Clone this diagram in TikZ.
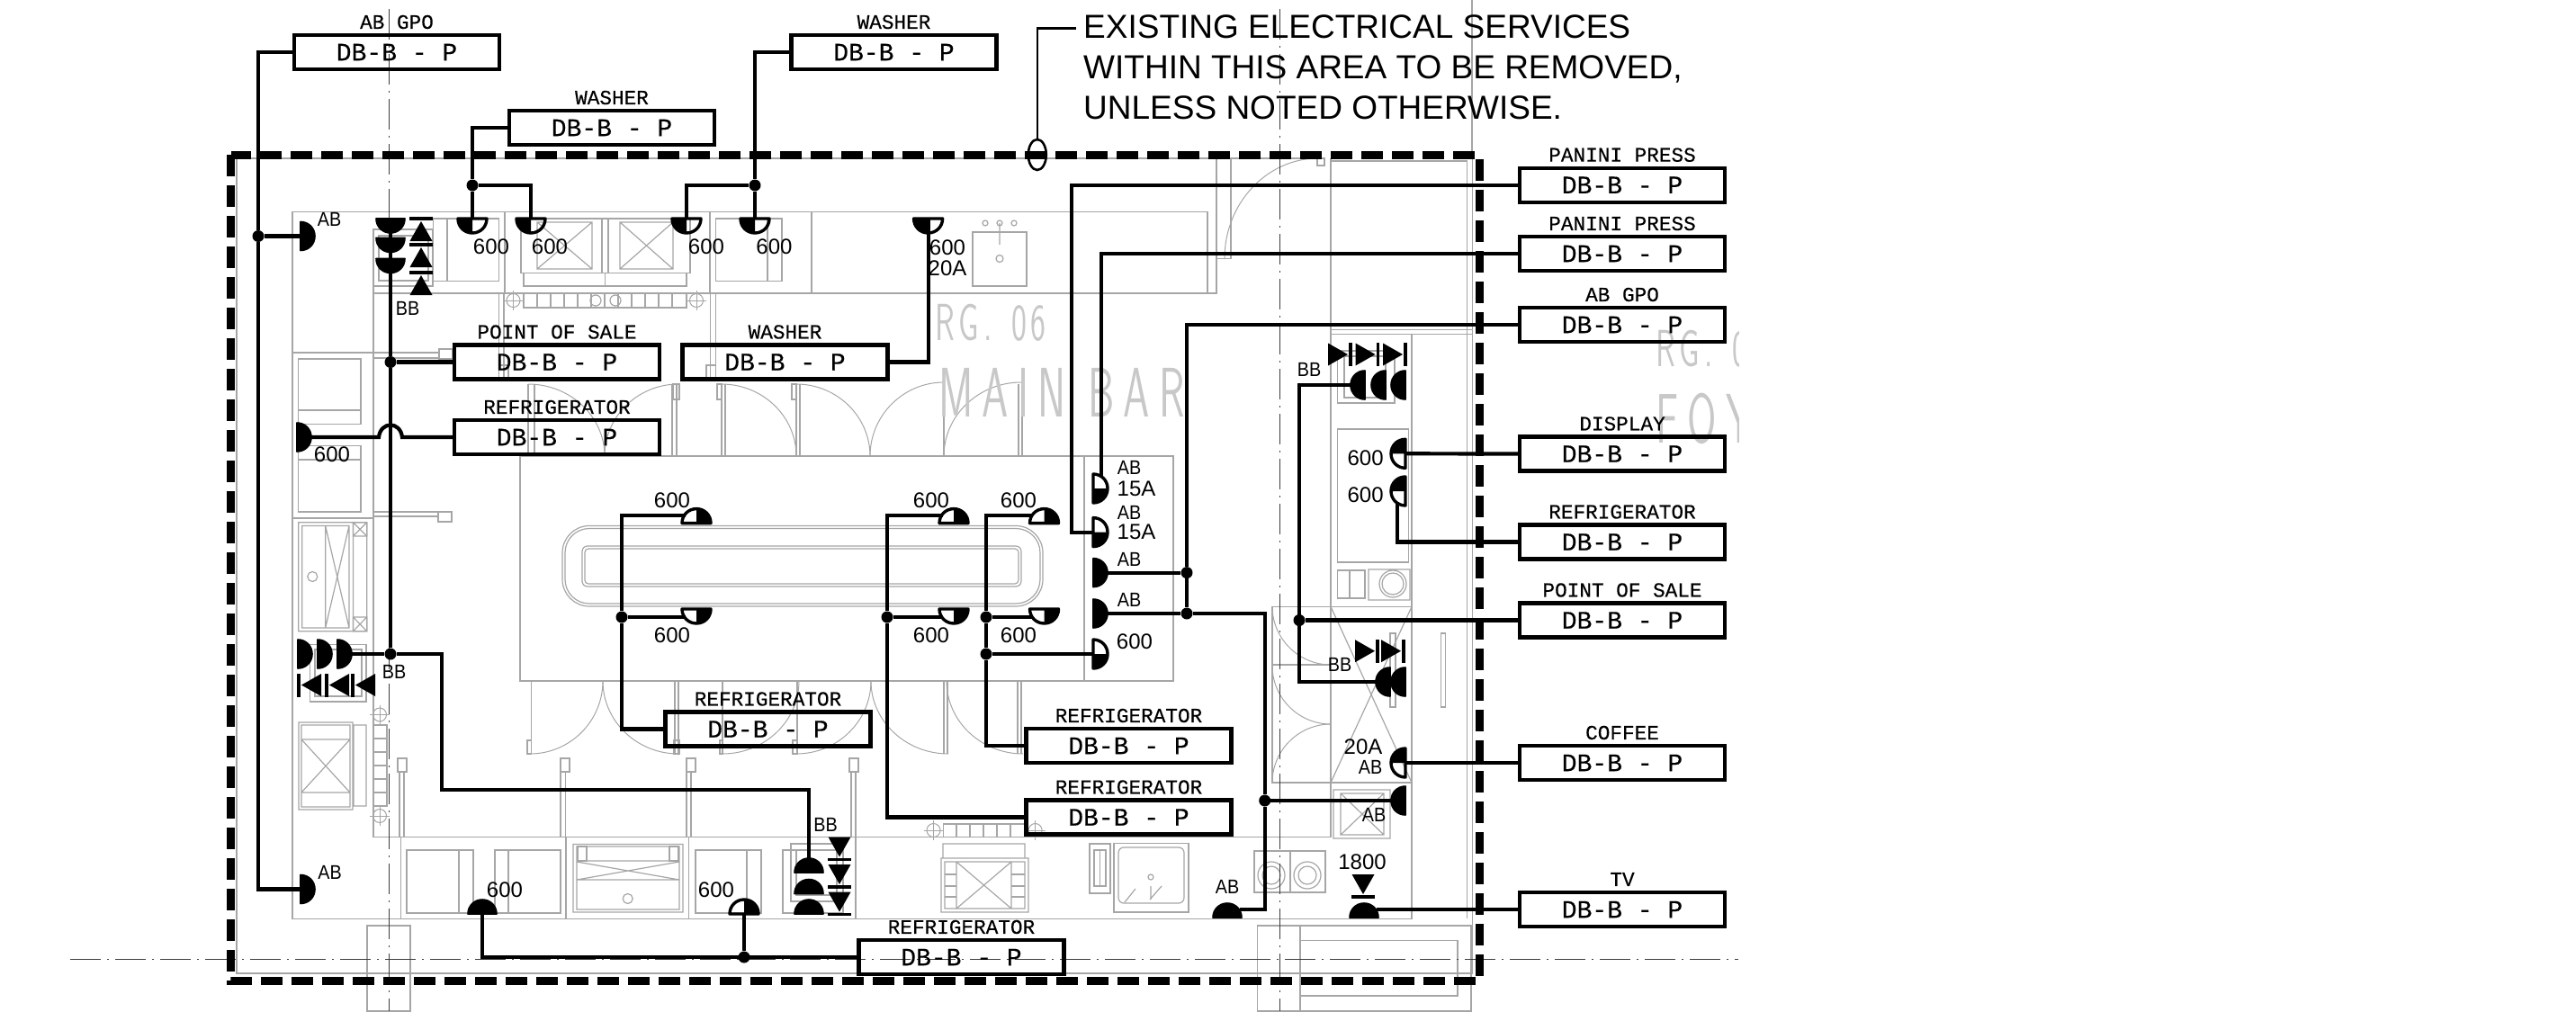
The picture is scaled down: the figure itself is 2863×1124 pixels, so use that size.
\documentclass[tikz,border=0pt]{standalone}
\usepackage{fontspec}
\usetikzlibrary{shapes.geometric}
\setmainfont{Liberation Sans}
\newfontfamily\boxfont[FakeBold=0.3]{Liberation Mono}
\newfontfamily\tagfont[FakeStretch=.9]{Liberation Sans}
\definecolor{plangray}{HTML}{A6A6A6}
\definecolor{roomgray}{HTML}{C8C8C8}
\definecolor{axis}{HTML}{3C3C3C}
\tikzset{
  plan/.style={draw=plangray,line width=1.2pt},
  axisline/.style={draw=axis,line width=1pt,dash pattern=on 34pt off 7pt on 2pt off 7pt},
  zone/.style={draw=black,line width=9pt,dash pattern=on 24pt off 10pt},
  wire/.style={draw=black,line width=4.2pt,line join=miter},
  dbbox/.style={draw=black,line width=4.4pt,minimum width=228pt,minimum height=38pt,inner sep=0pt,font=\boxfont\fontsize{28}{28}\selectfont},
  dblabel/.style={inner sep=0pt,font=\boxfont\fontsize{22.7}{22.7}\selectfont},
  small/.style={inner sep=0pt,font=\fontsize{24}{24}\selectfont},
  tag/.style={inner sep=0pt,font=\tagfont\fontsize{22}{22}\selectfont},
  jn/.style={circle,fill=black,inner sep=0pt,minimum size=13pt},
  room/.style={inner sep=0pt,text=roomgray},
}
\newcommand{\dbbox}[4]{%
  \node[dbbox] (#1) at (#2,#3) {DB-B - P};
  \node[dblabel] (#1L) at (#2,#3-33.5) {#4};}
\newcommand{\lka}{\kern8pt }
\newcommand{\lkb}{\kern17pt }
\newcommand{\archpath}{(-16,0) .. controls (-16,9) and (-9,16) .. (0,16) .. controls (9,16) and (16,9) .. (16,0) -- cycle}
\newcommand{\sockfull}[4]{% name,x,y,rot
  \coordinate (#1) at (#2,#3);
  \begin{scope}[shift={(#2,#3)},rotate=#4]
    \filldraw[line width=1.6pt,line join=round] \archpath;
  \end{scope}}
\newcommand{\sockhalf}[5]{% name,x,y,rot,mirror
  \coordinate (#1) at (#2,#3);
  \begin{scope}[shift={(#2,#3)},rotate=#4,xscale=#5]
    \draw[line width=3.4pt,line join=round] \archpath;
    \fill (0,0) -- (-16,0) .. controls (-16,9) and (-9,16) .. (0,16) -- cycle;
  \end{scope}}
\newcommand{\diode}[3]{% x,y,rot : base at x,y
  \begin{scope}[shift={(#1,#2)},rotate=#3]
    \fill (-12.5,0) -- (12.5,0) -- (0,22) -- cycle;
    \draw[line width=3.4pt] (-13,25) -- (13,25);
  \end{scope}}
\newcommand{\doorarc}[4]{%
  \pgfmathsetmacro{\cxa}{#1+.55*(#3-#1)}\pgfmathsetmacro{\cya}{#4-.55*(#4-#2)}%
  \draw[plan,line width=1pt] (#1,#2) .. controls (\cxa,#2) and (#3,\cya) .. (#3,#4);}
\newcommand{\crosshair}[2]{%
  \node[draw=plangray,line width=1pt,circle,inner sep=0pt,minimum size=15pt] at (#1,#2) {};
  \draw[plan,line width=.8pt] (#1-11,#2) -- (#1+11,#2) (#1,#2-11) -- (#1,#2+11);}
\begin{document}
\begin{tikzpicture}[x=1pt,y=-1pt]
\useasboundingbox (0,0) rectangle (2863,1124);
% ---------- plan underlay
\draw[plan] (263,176) -- (263,1082) -- (1637,1082);
\draw[plan] (263,176) -- (1465,176);
\draw[plan] (325,1021.5) -- (325,235.7) -- (1342,235.7) -- (1342,326);
\draw[plan] (1352,176) -- (1352,326) -- (414.5,326);
\draw[plan] (325,1021.5) -- (1569,1021.5) -- (1569,371.7);
\draw[plan] (325,392) -- (414.5,392) (414.5,398) -- (488,398) (414.5,392) -- (488,392);
\draw[plan] (488,388) rectangle (502.6,399);
\draw[plan] (415,255) -- (415,930.5) -- (1479,930.5);
\draw[plan] (561,236) -- (561,326) (789,236) -- (789,326) (902,236) -- (902,326);
\draw[plan] (481.5,243) rectangle (554.5,312.5) (497,243) -- (497,312.5);
\draw[plan] (795.5,243) rectangle (869,312.5) (853,243) -- (853,312.5);
\draw[plan] (579,243) rectangle (767,303.6) (669,243) -- (669,303.6) (676,243) -- (676,303.6);
\draw[plan] (597,247) rectangle (658,299) (597,247) -- (658,299) (597,299) -- (658,247);
\draw[plan] (689,247) rectangle (748,299) (689,247) -- (748,299) (689,299) -- (748,247);
\draw[plan] (582,303.6) rectangle (763,318) (672.5,303.6) -- (672.5,318);
\draw[plan] (582,326) rectangle (763,342);
\foreach \xx in {597,612,627,642,657,672,687,702,717,732,747}{\draw[plan] (\xx,326) -- (\xx,342);}
\draw[plan] (662,334) circle[radius=6pt] (684,334) circle[radius=6pt];
\crosshair{570.5}{334}\crosshair{774}{334}
\draw[plan] (554.5,326) -- (554.5,420) (560,326) -- (560,420) (789.6,326) -- (789.6,420) (795.5,326) -- (795.5,420);
\draw[plan] (554.5,406) rectangle (565,421) (785,406) rectangle (795.5,421);
\draw[plan] (414.5,255) rectangle (481,318) (421,262) rectangle (476,312);
% sink top
\draw[plan] (1081,258) rectangle (1141,318);
\draw[plan] (1111,287.5) circle[radius=4pt] (1111,248) -- (1111,272) (1095,248) circle[radius=3pt] (1127,248) circle[radius=3pt] (1111,248) circle[radius=3pt];
% island
\draw[plan] (578,507) rectangle (1304,757) (1205,507) -- (1205,757);
\draw[plan,rounded corners=30pt] (625,584.5) rectangle (1159,674);
\draw[plan,rounded corners=27pt] (628,587.5) rectangle (1156,671);
\draw[plan,rounded corners=6pt] (647,607) rectangle (1135,652);
\draw[plan,rounded corners=4pt] (650,610) rectangle (1132,649);
% doors
\draw[plan] (587,427) -- (587,507) (594,427) -- (594,507) (747,427) -- (747,507) (752,427) -- (752,507) (802,427) -- (802,507) (806,427) -- (806,507) (885,427) -- (885,507) (889,427) -- (889,507) (1049,427) -- (1049,507) (1132,427) -- (1132,507) (1136,427) -- (1136,507);
\draw[plan] (748,427) rectangle (755,444) (797,427) rectangle (802,444) (880,427) rectangle (885,444);
\doorarc{587}{427}{672}{507}\doorarc{754}{427}{672}{507}\doorarc{802}{427}{885}{507}\doorarc{885}{427}{967}{507}\doorarc{1049}{425}{967}{507}\doorarc{1135}{425}{1049}{507}
\draw[plan] (590.6,757) -- (590.6,838) (750,757) -- (750,838) (754,757) -- (754,838) (803,757) -- (803,838) (886,757) -- (886,838) (1049,757) -- (1049,838) (1053,757) -- (1053,838) (1131,757) -- (1131,838) (1135,757) -- (1135,838);
\draw[plan] (586,823) rectangle (590.6,838) (749,823) rectangle (755,838) (800,823) rectangle (803,838) (881,823) rectangle (886,838);
\doorarc{589}{838}{670}{757}\doorarc{754}{838}{670}{757}\doorarc{803}{838}{888}{757}\doorarc{885}{838}{968}{757}\doorarc{1054}{838}{968}{757}\doorarc{1137}{838}{1052}{757}
% posts
\draw[plan] (442,843) rectangle (452,858) (444,858) -- (444,930.5) (449,858) -- (449,930.5);
\draw[plan] (623,843) rectangle (633,858) (623,858) -- (623,930.5) (628.5,858) -- (628.5,930.5);
\draw[plan] (763,843) rectangle (773,858) (763,858) -- (763,930.5) (768,858) -- (768,930.5);
\draw[plan] (944,843) rectangle (954,858) (946,858) -- (946,930.5) (951,858) -- (951,930.5);
% left column
\draw[plan] (331.7,399) rectangle (401,471.7) (331.7,456) -- (401,456);
\draw[plan] (331.7,495.7) rectangle (401,569) (331.7,511) -- (401,511);
\draw[plan] (325,576) -- (415,576);
\draw[plan] (331.7,580.7) rectangle (407.7,701.7) (335.7,584.5) rectangle (388,698) (361.7,584.5) -- (361.7,698) (361.7,584.5) -- (388,698) (361.7,698) -- (388,584.5) (392.5,580.7) -- (392.5,701.7);
\draw[plan] (392.5,580.7) rectangle (407.7,596) (392.5,686) rectangle (407.7,701.7) (392.5,580.7) -- (407.7,596) (392.5,596) -- (407.7,580.7) (392.5,686) -- (407.7,701.7) (392.5,701.7) -- (407.7,686);
\draw[plan] (347.3,641) circle[radius=5.5pt];
\draw[plan] (415,569) -- (487,569) (415,574) -- (487,574) (487,569) rectangle (502,580);
\draw[plan] (344.6,716.5) rectangle (407,780) (350,722) rectangle (402,774);
\draw[plan] (332,803) rectangle (392,900) (335,806) rectangle (389,897) (335,822) -- (389,822) (335,881) -- (389,881) (335,822) -- (389,881) (335,881) -- (389,822) (393,806) rectangle (407,896);
\draw[plan] (415,806) rectangle (430,896);
\foreach \yy in {821,836,851,866,881}{\draw[plan] (415,\yy) -- (430,\yy);}
\crosshair{422}{794.5}\crosshair{422}{907}
% bottom counter
\draw[plan] (445.6,930.5) -- (445.6,1021.5) (629,930.5) -- (629,1021.5) (765.5,930.5) -- (765.5,1021.5) (951,930.5) -- (951,1021.5);
\draw[plan] (452,945) rectangle (526,1015) (510,945) -- (510,1015);
\draw[plan] (550,945) rectangle (623,1015) (565,945) -- (565,1015);
\draw[plan] (637,938.4) rectangle (759,1014) (641,941) rectangle (755,1011) (641,957) -- (755,957) (641,978) -- (755,978) (641,958) -- (755,978) (641,978) -- (755,958) (697.7,999) circle[radius=5.5pt];
\draw[plan] (642,941) rectangle (652,957) (744,941) rectangle (754,957);
\draw[plan] (773,945) rectangle (846,1015) (830,945) -- (830,1015);
\draw[plan] (870,945) rectangle (937,1015) (879,938) rectangle (937,1002) (885,945) rectangle (930,995);
\draw[plan] (1048.6,916) rectangle (1139.6,930.5);
\foreach \xx in {1063,1078,1093,1108,1123}{\draw[plan] (\xx,916) -- (\xx,930.5);}
\crosshair{1037.5}{923}\crosshair{1150.6}{923}
\draw[plan] (1046,954) rectangle (1143,1014) (1050,958) rectangle (1139,1010) (1063,958) rectangle (1124,1010) (1063,958) -- (1124,1010) (1063,1010) -- (1124,958) (1048,938) rectangle (1139,954);
\foreach \yy in {972,985,997}{\draw[plan] (1050,\yy) -- (1063,\yy) (1124,\yy) -- (1139,\yy);}
\draw[plan] (1211,938) rectangle (1234,993) (1216,945) rectangle (1229,985) (1222.5,945) -- (1222.5,985);
\draw[plan] (1238,937.7) rectangle (1321,1014);
\draw[plan,rounded corners=6pt] (1243,942) rectangle (1316,1004);
\draw[plan] (1278,1000) -- (1291,985) (1279,985) -- (1279,1000) (1279,975) circle[radius=3pt] (1250,1003) -- (1262,988);
\draw[plan] (1394,946) rectangle (1473,992) (1434,946) -- (1434,992);
\draw[plan] (1413,973) circle[radius=15pt] (1413,973) circle[radius=10pt] (1453,973) circle[radius=15pt] (1453,973) circle[radius=10pt];
% right column
\draw[plan] (1479,176) -- (1479,931) (1479,179) -- (1631,179) (1630.7,179) -- (1630.7,1021) (1636.7,176) -- (1636.7,1082);
\draw[plan] (1479,366.7) -- (1636,366.7) (1479,371.7) -- (1636,371.7);
\draw[plan] (1486.7,390) rectangle (1550,448) (1494,396) rectangle (1540,442);
\draw[plan] (1486.7,477) rectangle (1565.7,625);
\draw[plan] (1486.7,634) rectangle (1517,665) (1500,634) -- (1500,665);
\draw[plan] (1521,633) rectangle (1567,667) (1548,649) circle[radius=15pt] (1548,649) circle[radius=12pt];
\draw[plan] (1414,674.4) rectangle (1569,870) (1479,674.4) -- (1479,870) (1414,739) -- (1479,739);
\draw[plan] (1479,674.4) -- (1569,870) (1479,870) -- (1569,674.4);
\draw[plan] (1545,704) rectangle (1551,786) (1601.5,704) rectangle (1606.6,786);
\doorarc{1479}{739}{1414}{674}\doorarc{1479}{805}{1414}{740}\doorarc{1479}{805}{1414}{870}
\draw[plan] (1482,878) rectangle (1545,932) (1490,882) rectangle (1538,928) (1490,882) -- (1538,928) (1490,928) -- (1538,882);
\draw[plan] (1352,176) rectangle (1368,287.5);
\doorarc{1465}{176}{1361}{287.5}
\draw[plan] (1464,176) rectangle (1472,184);
% bottom stairs
\draw[plan] (408,1029) rectangle (456,1124);
\draw[plan] (1397.6,1029) rectangle (1635,1124) (1445,1029) -- (1445,1124) (1445,1045.6) rectangle (1620,1107) (1445,1082) -- (1620,1082);
% room names
\begin{scope}
  \clip (0,0) rectangle (1932,1124);
  \node[room] (rgA) at (1101,359) {\sffamily\fontsize{58}{58}\selectfont\scalebox{.62}[1]{R\lka G\lka .\lka\ \lka 0\lka 6}};
  \node[room] (mainbar) at (1180,436) {\sffamily\fontsize{78}{78}\selectfont\scalebox{.6}[1]{M\lkb A\lkb I\lkb N\ \lkb B\lkb A\lkb R}};
  \node[room,anchor=west] (rgB) at (1840,388) {\sffamily\fontsize{58}{58}\selectfont\scalebox{.62}[1]{R\lka G\lka .\lka\ \lka 0}};
  \node[room,anchor=west] (foy) at (1840,465) {\sffamily\fontsize{78}{78}\selectfont\scalebox{.6}[1]{F\lkb O\lkb Y}};
\end{scope}
% ---------- axes
\coordinate (axL) at (78,1066.5);\coordinate (axR) at (1932,1066.5);
\coordinate (axAt) at (432,10);\coordinate (axAb) at (432,1124);
\coordinate (axBt) at (1422,10);\coordinate (axBb) at (1422,1124);
\coordinate (edgeT) at (1636,0);\coordinate (edgeB) at (1636,172);
\draw[axisline] (axL) -- (axR);
\draw[axisline] (axAt) -- (axAb);
\draw[axisline] (axBt) -- (axBb);
\draw[plan] (edgeT) -- (edgeB);
% ---------- removal zone
\draw[zone] (256.5,172) rectangle (1644,1090.5);
\node[draw=black,line width=2.6pt,ellipse,fill=none,minimum width=20pt,minimum height=34pt,inner sep=0pt] (cloud) at (1152.8,172) {};
\node[anchor=west,inner sep=0pt,align=left,font=\fontsize{37}{45}\selectfont] (note) at (1204,75) {EXISTING ELECTRICAL SERVICES\\WITHIN THIS AREA TO BE REMOVED,\\UNLESS NOTED OTHERWISE.};
\coordinate (noteEnd) at (1196,31.4);
\draw[line width=2.4pt] (noteEnd) -| (cloud.north);
% ---------- boxes
\dbbox{abgpoA}{441}{58}{AB GPO}
\dbbox{washerA}{680}{142}{WASHER}
\dbbox{washerB}{993.5}{58}{WASHER}
\dbbox{posA}{619}{402.5}{POINT OF SALE}
\dbbox{washerC}{872.5}{402.5}{WASHER}
\dbbox{fridgeA}{619}{486}{REFRIGERATOR}
\dbbox{fridgeB}{853.5}{810.5}{REFRIGERATOR}
\dbbox{fridgeC}{1254.5}{829}{REFRIGERATOR}
\dbbox{fridgeD}{1254.5}{908.5}{REFRIGERATOR}
\dbbox{fridgeE}{1068.5}{1064}{REFRIGERATOR}
\dbbox{panA}{1803}{205.7}{PANINI PRESS}
\dbbox{panB}{1803}{282}{PANINI PRESS}
\dbbox{abgpoB}{1803}{361}{AB GPO}
\dbbox{displayA}{1803}{504.5}{DISPLAY}
\dbbox{fridgeR}{1803}{602.5}{REFRIGERATOR}
\dbbox{posR}{1803}{689.5}{POINT OF SALE}
\dbbox{coffee}{1803}{848}{COFFEE}
\dbbox{tv}{1803}{1011}{TV}
% ---------- sockets
\sockfull{sAbA}{334}{262.5}{90}
\sockfull{sAbB}{334}{988.5}{90}
\sockhalf{sWa}{525}{243}{0}{1}
\sockhalf{sWb}{590}{243}{0}{1}
\sockhalf{sWc}{763}{243}{0}{1}
\sockhalf{sWd}{839}{243}{0}{1}
\sockhalf{sWe}{1031.6}{243}{0}{1}
\sockfull{sBt}{434}{243}{0}
\sockfull{sBt2}{434}{264.5}{0}
\sockfull{sBt3}{434}{287.5}{0}
\diode{468}{268}{180}\diode{468}{297}{180}\diode{468}{328}{180}
\sockfull{sFr}{330}{486}{90}
\sockfull{sLa}{331}{727}{90}
\sockfull{sLb}{353}{727}{90}
\sockfull{sLc}{375}{727}{90}
\diode{357}{761.5}{-90}\diode{388}{761.5}{-90}\diode{417}{761.5}{-90}
\sockfull{sBa}{899}{970}{180}
\sockfull{sBb}{899}{993.5}{180}
\sockfull{sBc}{899}{1016}{180}
\diode{933}{930.5}{0}\diode{933}{961}{0}\diode{933}{991.6}{0}
\sockhalf{sMa}{774}{581.6}{180}{1}
\sockhalf{sMb}{774}{677}{0}{-1}
\sockhalf{sMc}{1060}{581.6}{180}{1}
\sockhalf{sMd}{1060}{677}{0}{-1}
\sockhalf{sMe}{1160.5}{581.6}{180}{1}
\sockhalf{sMf}{1160.5}{677}{0}{-1}
\sockhalf{sQa}{1215}{543}{90}{1}
\sockhalf{sQb}{1215}{591.6}{90}{1}
\sockfull{sQc}{1215}{636.6}{90}
\sockfull{sQd}{1215}{682}{90}
\sockhalf{sQe}{1215}{727}{90}{1}
\sockfull{sAbC}{1364}{1020}{180}
\sockfull{sAbD}{1562}{890}{-90}
\sockfull{sRa}{1517}{428}{-90}
\sockfull{sRb}{1540}{428}{-90}
\sockfull{sRc}{1562}{428}{-90}
\diode{1476}{394}{90}\diode{1506.5}{394}{90}\diode{1537}{394}{90}
\sockhalf{sDa}{1562}{504.3}{-90}{1}
\sockhalf{sDb}{1562}{546}{-90}{1}
\sockfull{sSa}{1545}{758}{-90}
\sockfull{sSb}{1562}{758}{-90}
\diode{1506}{723.7}{90}\diode{1535}{723.7}{90}
\sockhalf{sCo}{1562}{848}{-90}{1}
\sockfull{sTv}{1516}{1020}{180}
\diode{1515}{972}{0}
\sockfull{sBl}{536}{1016}{180}
\sockhalf{sBr}{827}{1016}{180}{1}
% ---------- junctions and bends
\node[jn] (jA) at (287,262.5) {};
\node[jn] (jB) at (525,206) {};
\node[jn] (jC) at (839,206) {};
\node[jn] (jD) at (434,402.5) {};
\node[jn] (jE) at (434,727) {};
\node[jn] (jF) at (691,686) {};
\node[jn] (jG) at (986,686) {};
\node[jn] (jH) at (1096,686) {};
\node[jn] (jI) at (1096,727) {};
\node[jn] (jJ) at (1319,636.6) {};
\node[jn] (jK) at (1319,682) {};
\node[jn] (jL) at (1405.7,890) {};
\node[jn] (jM) at (1444,689.5) {};
\node[jn] (jP) at (827,1064) {};
\coordinate (hopA) at (421,486);\coordinate (hopB) at (447,486);
\coordinate (t1) at (491,878);
\coordinate (cMa) at (691,572.6);\coordinate (cMaE) at (762,572.6);\coordinate (cMbE) at (762,686);
\coordinate (cMc) at (986,572.6);\coordinate (cMcE) at (1048,572.6);\coordinate (cMdE) at (1048,686);
\coordinate (cMe) at (1096,572.6);\coordinate (cMeE) at (1148,572.6);\coordinate (cMfE) at (1148,686);
\coordinate (cQ) at (1191,591.6);
\coordinate (cQa) at (1224,530);
\coordinate (cT) at (1405.7,1010.7);\coordinate (sAbCe) at (1378,1010.7);
\coordinate (cRa) at (1444,428);\coordinate (cRb) at (1444,758);
\coordinate (cDb) at (1553,558);
\coordinate (tvE) at (1530,1011);
% ---------- connectors
\draw[wire] (abgpoA.west) -| (jA) |- (sAbB);
\draw[wire] (jA) -- (sAbA);
\draw[wire] (washerA.west) -| (jB) -- (sWa);
\draw[wire] (jB) -| (sWb);
\draw[wire] (washerB.west) -| (jC) -- (sWd);
\draw[wire] (jC) -| (sWc);
\draw[wire] (washerC.east) -| (sWe);
\draw[wire] (sBt) -- (jD) -- (jE);
\draw[wire] (jD) -- (posA.west);
\draw[wire] (sLc) -- (jE) -| (t1) -| (sBa);
\draw[wire] (sFr) -- (hopA) .. controls (423,468) and (445,468) .. (hopB) -- (fridgeA.west);
\draw[wire] (fridgeB.west) -| (jF) -- (cMa) -- (cMaE);
\draw[wire] (jF) -- (cMbE);
\draw[wire] (fridgeD.west) -| (jG) -- (cMc) -- (cMcE);
\draw[wire] (jG) -- (cMdE);
\draw[wire] (fridgeC.west) -| (jI) -- (jH) -- (cMe) -- (cMeE);
\draw[wire] (jH) -- (cMfE);
\draw[wire] (jI) -- (sQe);
\draw[wire] (panA.west) -| (cQ) -- (sQb);
\draw[wire] (panB.west) -| (cQa);
\draw[wire] (abgpoB.west) -| (jJ) -- (jK);
\draw[wire] (jJ) -- (sQc);
\draw[wire] (jK) -- (sQd);
\draw[wire] (jK) -| (jL) -- (cT) -- (sAbCe);
\draw[wire] (jL) -- (sAbD);
\draw[wire] (posR.west) -- (jM);
\draw[wire] (sRa) -- (cRa) -- (cRb) -- (sSa);
\draw[wire] (displayA.west) -- (sDa);
\draw[wire] (fridgeR.west) -| (cDb);
\draw[wire] (coffee.west) -- (sCo);
\draw[wire] (tv.west) -- (tvE);
\draw[wire] (sBl) |- (fridgeE.west);
\draw[wire] (jP) -- (sBr);
% ---------- tags
\node[tag] (tA) at (366,244) {AB};
\node[tag] (tB) at (453,343) {BB};
\node[tag] (tC) at (438,747) {BB};
\node[tag] (tD) at (366.5,970) {AB};
\node[tag] (tE) at (917.5,917) {BB};
\node[tag] (tF) at (1255,520) {AB};
\node[small] (tG) at (1263,543) {15A};
\node[tag] (tH) at (1255,570) {AB};
\node[small] (tI) at (1263,591.5) {15A};
\node[tag] (tJ) at (1255,622) {AB};
\node[tag] (tK) at (1255,667) {AB};
\node[tag] (tL) at (1455,410.7) {BB};
\node[tag] (tM) at (1489,739) {BB};
\node[small] (tN) at (1515,830.5) {20A};
\node[tag] (tO) at (1523,853) {AB};
\node[tag] (tP) at (1527,906) {AB};
\node[tag] (tQ) at (1364,985.5) {AB};
\node[small] (tR) at (1053,275) {600};
\node[small] (tS) at (1053,298) {20A};
\node[small] (nA) at (546,274.5) {600};
\node[small] (nB) at (611,274.5) {600};
\node[small] (nC) at (785,274.5) {600};
\node[small] (nD) at (860.5,274.5) {600};
\node[small] (nE) at (369,505) {600};
\node[small] (nF) at (747,556) {600};
\node[small] (nG) at (747,706) {600};
\node[small] (nH) at (1035,556) {600};
\node[small] (nI) at (1035,706) {600};
\node[small] (nJ) at (1132,556) {600};
\node[small] (nK) at (1132,706) {600};
\node[small] (nL) at (1261,713) {600};
\node[small] (nM) at (1517.6,509) {600};
\node[small] (nN) at (1517.6,550) {600};
\node[small] (nO) at (561,989) {600};
\node[small] (nP) at (796,989) {600};
\node[small] (nQ) at (1514,958.5) {1800};
\end{tikzpicture}
\end{document}
